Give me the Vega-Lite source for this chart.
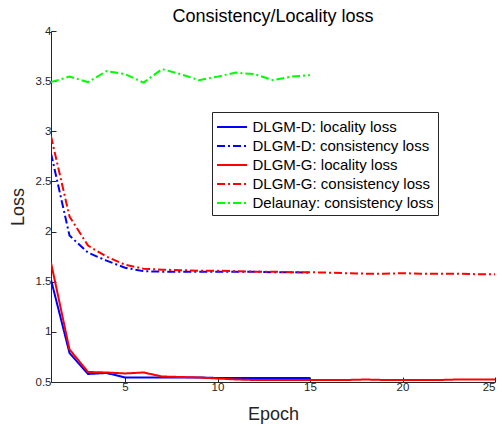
{
  "$schema": "https://vega.github.io/schema/vega-lite/v6.json",
  "width": 444,
  "height": 351,
  "autosize": "none",
  "padding": {"left": 51, "top": 31, "right": 7, "bottom": 42},
  "background": "white",
  "config": {
    "font": "Liberation Sans",
    "view": {"stroke": null},
    "axis": {"grid": false, "domainColor": "#262626", "tickColor": "#262626", "labelColor": "#262626", "labelFontSize": 11.5, "titleFontWeight": "normal", "titleColor": "#262626", "titleFontSize": 18, "tickSize": -5, "domainWidth": 1}
  },
  "title": {"text": "Consistency/Locality loss", "fontSize": 18, "fontWeight": "normal", "color": "black", "offset": -1, "anchor": "middle"},
  "data": {"values": [
    {"e":1,"s":"DLGM-D: locality loss","v":1.52},{"e":2,"s":"DLGM-D: locality loss","v":0.79},{"e":3,"s":"DLGM-D: locality loss","v":0.58},{"e":4,"s":"DLGM-D: locality loss","v":0.59},{"e":5,"s":"DLGM-D: locality loss","v":0.545},{"e":6,"s":"DLGM-D: locality loss","v":0.545},{"e":7,"s":"DLGM-D: locality loss","v":0.545},{"e":8,"s":"DLGM-D: locality loss","v":0.545},{"e":9,"s":"DLGM-D: locality loss","v":0.545},{"e":10,"s":"DLGM-D: locality loss","v":0.54},{"e":11,"s":"DLGM-D: locality loss","v":0.54},{"e":12,"s":"DLGM-D: locality loss","v":0.54},{"e":13,"s":"DLGM-D: locality loss","v":0.54},{"e":14,"s":"DLGM-D: locality loss","v":0.54},{"e":15,"s":"DLGM-D: locality loss","v":0.54},
    {"e":1,"s":"DLGM-D: consistency loss","v":2.78},{"e":2,"s":"DLGM-D: consistency loss","v":1.96},{"e":3,"s":"DLGM-D: consistency loss","v":1.79},{"e":4,"s":"DLGM-D: consistency loss","v":1.71},{"e":5,"s":"DLGM-D: consistency loss","v":1.64},{"e":6,"s":"DLGM-D: consistency loss","v":1.605},{"e":7,"s":"DLGM-D: consistency loss","v":1.6},{"e":8,"s":"DLGM-D: consistency loss","v":1.6},{"e":9,"s":"DLGM-D: consistency loss","v":1.6},{"e":10,"s":"DLGM-D: consistency loss","v":1.6},{"e":11,"s":"DLGM-D: consistency loss","v":1.6},{"e":12,"s":"DLGM-D: consistency loss","v":1.6},{"e":13,"s":"DLGM-D: consistency loss","v":1.595},{"e":14,"s":"DLGM-D: consistency loss","v":1.595},{"e":15,"s":"DLGM-D: consistency loss","v":1.59},
    {"e":1,"s":"DLGM-G: locality loss","v":1.69},{"e":2,"s":"DLGM-G: locality loss","v":0.825},{"e":3,"s":"DLGM-G: locality loss","v":0.6},{"e":4,"s":"DLGM-G: locality loss","v":0.595},{"e":5,"s":"DLGM-G: locality loss","v":0.585},{"e":6,"s":"DLGM-G: locality loss","v":0.595},{"e":7,"s":"DLGM-G: locality loss","v":0.555},{"e":8,"s":"DLGM-G: locality loss","v":0.55},{"e":9,"s":"DLGM-G: locality loss","v":0.545},{"e":10,"s":"DLGM-G: locality loss","v":0.535},{"e":11,"s":"DLGM-G: locality loss","v":0.525},{"e":12,"s":"DLGM-G: locality loss","v":0.52},{"e":13,"s":"DLGM-G: locality loss","v":0.52},{"e":14,"s":"DLGM-G: locality loss","v":0.52},{"e":15,"s":"DLGM-G: locality loss","v":0.52},{"e":16,"s":"DLGM-G: locality loss","v":0.52},{"e":17,"s":"DLGM-G: locality loss","v":0.52},{"e":18,"s":"DLGM-G: locality loss","v":0.525},{"e":19,"s":"DLGM-G: locality loss","v":0.52},{"e":20,"s":"DLGM-G: locality loss","v":0.52},{"e":21,"s":"DLGM-G: locality loss","v":0.52},{"e":22,"s":"DLGM-G: locality loss","v":0.52},{"e":23,"s":"DLGM-G: locality loss","v":0.525},{"e":24,"s":"DLGM-G: locality loss","v":0.525},{"e":25,"s":"DLGM-G: locality loss","v":0.525},
    {"e":1,"s":"DLGM-G: consistency loss","v":2.95},{"e":2,"s":"DLGM-G: consistency loss","v":2.15},{"e":3,"s":"DLGM-G: consistency loss","v":1.86},{"e":4,"s":"DLGM-G: consistency loss","v":1.75},{"e":5,"s":"DLGM-G: consistency loss","v":1.67},{"e":6,"s":"DLGM-G: consistency loss","v":1.63},{"e":7,"s":"DLGM-G: consistency loss","v":1.62},{"e":8,"s":"DLGM-G: consistency loss","v":1.615},{"e":9,"s":"DLGM-G: consistency loss","v":1.61},{"e":10,"s":"DLGM-G: consistency loss","v":1.61},{"e":11,"s":"DLGM-G: consistency loss","v":1.605},{"e":12,"s":"DLGM-G: consistency loss","v":1.6},{"e":13,"s":"DLGM-G: consistency loss","v":1.6},{"e":14,"s":"DLGM-G: consistency loss","v":1.595},{"e":15,"s":"DLGM-G: consistency loss","v":1.595},{"e":16,"s":"DLGM-G: consistency loss","v":1.59},{"e":17,"s":"DLGM-G: consistency loss","v":1.585},{"e":18,"s":"DLGM-G: consistency loss","v":1.58},{"e":19,"s":"DLGM-G: consistency loss","v":1.58},{"e":20,"s":"DLGM-G: consistency loss","v":1.585},{"e":21,"s":"DLGM-G: consistency loss","v":1.58},{"e":22,"s":"DLGM-G: consistency loss","v":1.58},{"e":23,"s":"DLGM-G: consistency loss","v":1.58},{"e":24,"s":"DLGM-G: consistency loss","v":1.575},{"e":25,"s":"DLGM-G: consistency loss","v":1.575},
    {"e":1,"s":"Delaunay: consistency loss","v":3.49},{"e":2,"s":"Delaunay: consistency loss","v":3.545},{"e":3,"s":"Delaunay: consistency loss","v":3.49},{"e":4,"s":"Delaunay: consistency loss","v":3.6},{"e":5,"s":"Delaunay: consistency loss","v":3.57},{"e":6,"s":"Delaunay: consistency loss","v":3.485},{"e":7,"s":"Delaunay: consistency loss","v":3.62},{"e":8,"s":"Delaunay: consistency loss","v":3.57},{"e":9,"s":"Delaunay: consistency loss","v":3.51},{"e":10,"s":"Delaunay: consistency loss","v":3.545},{"e":11,"s":"Delaunay: consistency loss","v":3.585},{"e":12,"s":"Delaunay: consistency loss","v":3.57},{"e":13,"s":"Delaunay: consistency loss","v":3.51},{"e":14,"s":"Delaunay: consistency loss","v":3.545},{"e":15,"s":"Delaunay: consistency loss","v":3.56}
  ]},
  "mark": {"type": "line", "strokeWidth": 2, "clip": true},
  "encoding": {
    "x": {"field": "e", "type": "quantitative", "title": "Epoch", "scale": {"domain": [1, 25], "nice": false, "zero": false},
      "axis": {"values": [5, 10, 15, 20, 25], "labelPadding": 4, "titlePadding": 13}},
    "y": {"field": "v", "type": "quantitative", "title": "Loss", "scale": {"domain": [0.5, 4], "nice": false, "zero": false},
      "axis": {"values": [0.5, 1, 1.5, 2, 2.5, 3, 3.5, 4], "format": "~g", "labelPadding": 5, "titlePadding": 8, "labelFlush": false}},
    "color": {"field": "s", "type": "nominal", "title": null,
      "scale": {"domain": ["DLGM-D: locality loss", "DLGM-D: consistency loss", "DLGM-G: locality loss", "DLGM-G: consistency loss", "Delaunay: consistency loss"], "range": ["#0000FF", "#0000FF", "#FF0000", "#FF0000", "#00FF00"]},
      "legend": {"orient": "none", "legendX": 161, "legendY": 81, "padding": 4, "strokeColor": "#262626", "fillColor": "white", "labelFontSize": 15, "labelLimit": 400, "labelColor": "black", "symbolSize": 400, "symbolStrokeWidth": 2, "symbolType": "M-1,0H2", "rowPadding": 0, "labelOffset": 14.5, "cornerRadius": 0}},
    "strokeDash": {"field": "s", "type": "nominal", "title": null,
      "scale": {"domain": ["DLGM-D: locality loss", "DLGM-D: consistency loss", "DLGM-G: locality loss", "DLGM-G: consistency loss", "Delaunay: consistency loss"], "range": [[1, 0], [8, 3, 2, 3], [1, 0], [8, 3, 2, 3], [8, 3, 2, 3]]}}
  }
}
